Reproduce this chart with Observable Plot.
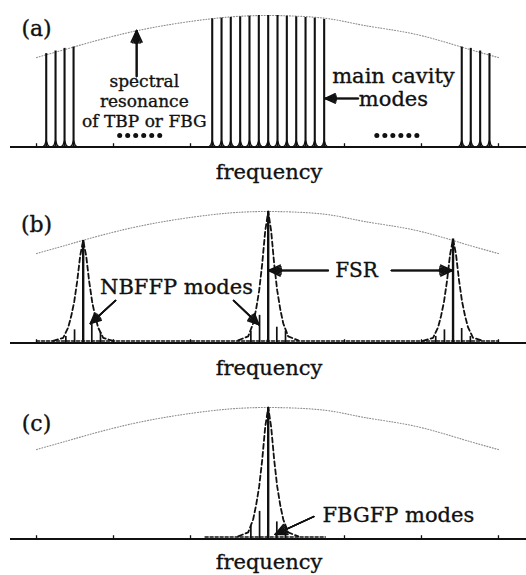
<!DOCTYPE html>
<html><head><meta charset="utf-8">
<script src="https://cdn.jsdelivr.net/npm/d3@7"></script>
<script src="https://cdn.jsdelivr.net/npm/@observablehq/plot@0.6"></script>
<style>
html,body{margin:0;padding:0;background:#fff;overflow:hidden;}
#chart svg{display:block;}
</style></head><body><div id="chart"></div>
<script>
// ---------- data (frequency in arbitrary units; level relative to envelope peak) ----------
const tickFreqs = [0, 1, 2, 3, 4, 5, 6];
const envelopeFreq  = [0, 0.48, 1.31, 2.27, 3.0, 3.73, 4.25, 4.9, 5.52, 6.0];
const envelopeLevel = [0.68, 0.76, 0.885, 0.975, 1.0, 0.98, 0.925, 0.86, 0.76, 0.68];

// (a) main cavity modes
const cavityModeFreq  = [0.126, 0.247, 0.364, 0.481,
  2.282, 2.403, 2.523, 2.645, 2.766, 2.887, 3.009, 3.130, 3.251, 3.373, 3.494, 3.614, 3.736,
  5.523, 5.640, 5.762, 5.883];
const cavityModeLevel = [0.71, 0.73, 0.75, 0.76,
  0.975, 0.98, 0.985, 0.99, 0.995, 1, 1, 1, 0.995, 0.99, 0.985, 0.98, 0.97,
  0.76, 0.75, 0.73, 0.71];
const ellipsisFreq = [1.34, 4.68];
const ellipsisDotOffset = [-0.26, -0.156, -0.052, 0.052, 0.156, 0.26];
// small foot at the base of each cavity mode line (offset, level)
const footOffset = [-0.045, -0.02, 0, 0.02, 0.045];
const footLevel  = [0.0, 0.015, 0.05, 0.015, 0.0];

// (b) NBFFP modes
const nbffpPeakFreq  = [0.606, 3.009, 5.41];
const nbffpPeakLevel = [0.78, 1.0, 0.79];
const nbffpSideLevel = [[0.05, 0.10, 0.14, 0.08], [0.09, 0.21, 0.12, 0.09], [0.05, 0.10, 0.11, 0.05]];
const nbffpNoiseRange = [0, 6];

// (c) FBGFP modes
const fbgfpPeakFreq  = [3.009];
const fbgfpPeakLevel = [1.0];
const fbgfpSideLevel = [[0.10, 0.21, 0.13, 0.05]];
const fbgfpNoiseRange = [2.19, 3.75];

const sideModeOffset = [-0.225, -0.112, 0.112, 0.225];
// dashed resonance profile around each peak (offset, relative level)
const profileOffset = [-0.39, -0.26, -0.195, -0.156, -0.117, -0.078, -0.039, 0, 0.039, 0.078, 0.117, 0.156, 0.195, 0.26, 0.39];
const profileLevel  = [0.02, 0.05, 0.15, 0.26, 0.4, 0.6, 0.85, 1, 0.85, 0.6, 0.4, 0.26, 0.15, 0.05, 0.02];
const noiseLevel = 0.015;

// labels
const panelLabels = ["(a)", "(b)", "(c)"];
const panelLabelLevel = [0.901, 0.894, 0.878];
const axisTitle = "frequency";
const textA = [
  {x: 1.40, y: 0.354, t: "spectral\nresonance\nof TBP or FBG", s: 17, lh: 1.18},
  {x: 4.636, y: 0.456, t: "main cavity\nmodes", s: 21, lh: 1.1}
];
const arrowsA = [
  {x1: 1.30, y1: 0.536, x2: 1.30, y2: 0.886},
  {x1: 4.18, y1: 0.369, x2: 3.75, y2: 0.369}
];
const textB = [
  {x: 1.818, y: 0.422, t: "NBFFP modes", s: 21, lh: 1},
  {x: 4.156, y: 0.551, t: "FSR", s: 20, lh: 1}
];
const arrowsB = [
  {x1: 1.026, y1: 0.323, x2: 0.70, y2: 0.148},
  {x1: 2.56, y1: 0.323, x2: 2.887, y2: 0.14},
  {x1: 3.79, y1: 0.551, x2: 3.015, y2: 0.551},
  {x1: 4.61, y1: 0.551, x2: 5.40, y2: 0.551}
];
const textC = [
  {x: 4.70, y: 0.178, t: "FBGFP modes", s: 21, lh: 1}
];
const arrowsC = [
  {x1: 3.60, y1: 0.17, x2: 3.10, y2: 0.035}
];

// ---------- helpers ----------
const FONT = "DejaVu Serif";
const INK = "#111";
const envelope = envelopeFreq.map((x, i) => ({x, y: envelopeLevel[i]}));

function arrowMarks(data) {
  return [50, 36, 22, 8].map(a => Plot.arrow(data, {
    x1: "x1", y1: "y1", x2: "x2", y2: "y2",
    stroke: INK, strokeWidth: 1.6, headAngle: a, headLength: 12
  }));
}
function textMarks(data) {
  return data.map(d => Plot.text([d], {x: "x", y: "y", text: "t", fontSize: d.s, lineHeight: d.lh,
    fontFamily: FONT, fill: INK, stroke: INK, strokeWidth: 0.35}));
}
function common(i, labelY) {
  return [
    Plot.line(envelope, {x: "x", y: "y", curve: "natural", stroke: "#8f8f8f", strokeWidth: 1.1, strokeDasharray: "1,1.8"}),
    Plot.ruleY([0], {stroke: INK, strokeWidth: 1.8}),
    Plot.ruleX(tickFreqs, {y1: 0, y2: 0.025, stroke: INK, strokeWidth: 1.3}),
    Plot.text([panelLabels[i]], {x: 0, y: panelLabelLevel[i], text: d => d, fontFamily: FONT, fontSize: 22, fill: INK, stroke: INK, strokeWidth: 0.35}),
    Plot.text([axisTitle], {x: 3.02, y: labelY, text: d => d, fontFamily: FONT, fontSize: 21, fill: INK, stroke: INK, strokeWidth: 0.35})
  ];
}
function peakMarks(freqs, levels, sides, noiseRange) {
  const prof = [];
  freqs.forEach((f, p) => profileOffset.forEach((o, k) => prof.push({p, x: f + o, y: levels[p] * profileLevel[k]})));
  const side = [];
  freqs.forEach((f, p) => sideModeOffset.forEach((o, k) => side.push({x: f + o, y: sides[p][k]})));
  const main = freqs.map((f, p) => ({x: f, y: levels[p]}));
  return [
    Plot.line(noiseRange.map(x => ({x, y: noiseLevel})), {x: "x", y: "y", stroke: INK, strokeWidth: 1.6, strokeDasharray: "3,2"}),
    Plot.line(prof, {x: "x", y: "y", z: "p", stroke: INK, strokeWidth: 1.8, strokeDasharray: "5,3"}),
    Plot.ruleX(side, {x: "x", y1: 0, y2: "y", stroke: INK, strokeWidth: 1.7}),
    Plot.ruleX(main, {x: "x", y1: 0, y2: "y", stroke: INK, strokeWidth: 2.4})
  ];
}
function panel(marks, h, mb) {
  return Plot.plot({
    width: 526, height: h, marginTop: 15, marginBottom: mb, marginLeft: 10, marginRight: 0,
    x: {domain: [-0.338, 6.364], axis: null},
    y: {domain: [0, 1], axis: null},
    style: {overflow: "visible", background: "white"},
    marks
  });
}

// ---------- panels ----------
const cavity = cavityModeFreq.map((x, i) => ({x, y: cavityModeLevel[i]}));
const feet = cavityModeFreq.flatMap((f, m) => footOffset.map((o, k) => ({m, x: f + o, y: footLevel[k]})));
const dots = ellipsisFreq.flatMap(c => ellipsisDotOffset.map(o => ({x: c + o, y: 0.087})));

const pa = panel([
  ...common(0, -0.194),
  Plot.line(feet, {x: "x", y: "y", z: "m", stroke: INK, strokeWidth: 1.2}),
  Plot.ruleX(cavity, {x: "x", y1: 0, y2: "y", stroke: INK, strokeWidth: 2.1}),
  Plot.dot(dots, {x: "x", y: "y", r: 2.5, fill: INK}),
  ...textMarks(textA),
  ...arrowMarks(arrowsA)
], 196, 49.5);

const pb = panel([
  ...common(1, -0.194),
  ...peakMarks(nbffpPeakFreq, nbffpPeakLevel, nbffpSideLevel, nbffpNoiseRange),
  ...textMarks(textB),
  ...arrowMarks(arrowsB)
], 196, 49.5);

const pc = panel([
  ...common(2, -0.179),
  ...peakMarks(fbgfpPeakFreq, fbgfpPeakLevel, fbgfpSideLevel, fbgfpNoiseRange),
  ...textMarks(textC),
  ...arrowMarks(arrowsC)
], 183, 36.5);

const root = document.getElementById("chart");
root.append(pa, pb, pc);
</script></body></html>
